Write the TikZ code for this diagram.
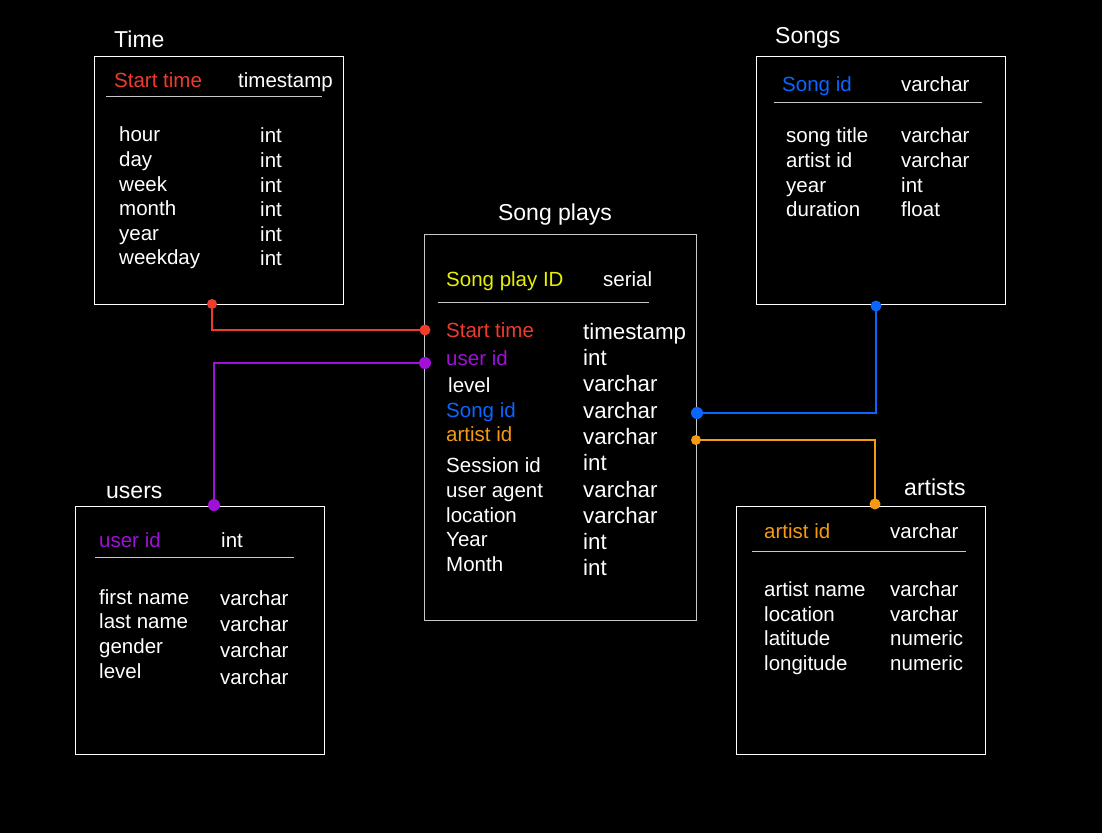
\documentclass[tikz,border=0pt]{standalone}
\usepackage{fontspec}
\setmainfont{Liberation Sans}
\definecolor{cred}{HTML}{EE3B2C}
\definecolor{cpur}{HTML}{A010D8}
\definecolor{cblu}{HTML}{0A66FF}
\definecolor{cora}{HTML}{F59A12}
\definecolor{cyel}{HTML}{E8F000}
\definecolor{cgry}{HTML}{C8C8C8}
\begin{document}
\begin{tikzpicture}[x=1pt,y=-1pt,
  tbl/.style={draw=white, line width=1.1pt, inner sep=0pt, anchor=north west},
  txt/.style={anchor=base west, inner sep=0pt, text=white, font=\fontsize{20.5}{24}\selectfont},
  big/.style={txt, font=\fontsize{22.3}{26}\selectfont},
  ttl/.style={anchor=base west, inner sep=0pt, text=white, font=\fontsize{23}{27}\selectfont},
  hline/.style={draw=cgry, line width=0.9pt},
  conn/.style={line width=1.3pt},
  dot/.style={circle, fill, inner sep=0pt, minimum size=10pt}]
\fill[black] (0,0) rectangle (1102,833);
\useasboundingbox (0,0) rectangle (1102,833);

% ---------- Time ----------
\node[tbl, minimum width=249pt, minimum height=248pt] (time) at (94,56) {};
\node[ttl] (timeT) at (114,47) {Time};
\node[txt, text=cred] (timeK) at (114,87) {Start time};
\node[txt] (timeKT) at (238,87) {timestamp};
\draw[hline] (106,96) -- (322,96);
\foreach \n/\t/\y in {a/hour/141, b/day/166, c/week/191, d/month/215, e/year/240, f/weekday/264}{
  \node[txt] (time\n) at (119,\y) {\t};
  \node[txt] (timeT\n) at (260,\y+1) {int};
}

% ---------- Songs ----------
\node[tbl, minimum width=249pt, minimum height=248pt] (songs) at (756,56) {};
\node[ttl] (songsT) at (775,43) {Songs};
\node[txt, text=cblu] (songsK) at (782,91) {Song id};
\node[txt] (songsKT) at (901,91) {varchar};
\draw[hline] (774,102) -- (982,102);
\foreach \n/\t/\ty/\y in {a/song title/varchar/142, b/artist id/varchar/167, c/year/int/192, d/duration/float/216}{
  \node[txt] (songs\n) at (786,\y) {\t};
  \node[txt] (songsT\n) at (901,\y) {\ty};
}

% ---------- Song plays ----------
\node[tbl, draw=cgry, line width=0.9pt, minimum width=272pt, minimum height=386pt] (plays) at (424,234) {};
\node[ttl, anchor=base] (playsT) at (555,220) {Song plays};
\node[txt, text=cyel] (playsK) at (446,286) {Song play ID};
\node[txt] (playsKT) at (603,286) {serial};
\draw[hline] (438,302) -- (649,302);
\node[txt, text=cred] (p1) at (446,337) {Start time};
\node[txt, text=cpur] (p2) at (446,365) {user id};
\node[txt] (p3) at (448,392) {level};
\node[txt, text=cblu] (p4) at (446,417) {Song id};
\node[txt, text=cora] (p5) at (446,441) {artist id};
\node[txt] (p6) at (446,472) {Session id};
\node[txt] (p7) at (446,497) {user agent};
\node[txt] (p8) at (446,522) {location};
\node[txt] (p9) at (446,546) {Year};
\node[txt] (p10) at (446,571) {Month};
\node[big] (pt1) at (583,339) {timestamp};
\node[big] (pt2) at (583,365) {int};
\node[big] (pt3) at (583,391) {varchar};
\node[big] (pt4) at (583,418) {varchar};
\node[big] (pt5) at (583,444) {varchar};
\node[big] (pt6) at (583,470) {int};
\node[big] (pt7) at (583,497) {varchar};
\node[big] (pt8) at (583,523) {varchar};
\node[big] (pt9) at (583,549) {int};
\node[big] (pt10) at (583,575) {int};

% ---------- users ----------
\node[tbl, minimum width=249pt, minimum height=248pt] (users) at (75,506) {};
\node[ttl] (usersT) at (106,498) {users};
\node[txt, text=cpur] (usersK) at (99,547) {user id};
\node[txt] (usersKT) at (221,547) {int};
\draw[hline] (95,557) -- (294,557);
\foreach \n/\t/\y/\ty in {a/first name/604/605, b/last name/628/631, c/gender/653/657, d/level/678/684}{
  \node[txt] (users\n) at (99,\y) {\t};
  \node[txt] (usersT\n) at (220,\ty) {varchar};
}

% ---------- artists ----------
\node[tbl, minimum width=249pt, minimum height=248pt] (artists) at (736,506) {};
\node[ttl] (artistsT) at (904,495) {artists};
\node[txt, text=cora] (artistsK) at (764,538) {artist id};
\node[txt] (artistsKT) at (890,538) {varchar};
\draw[hline] (752,551) -- (966,551);
\foreach \n/\t/\ty/\y in {a/artist name/varchar/596, b/location/varchar/621, c/latitude/numeric/645, d/longitude/numeric/670}{
  \node[txt] (artists\n) at (764,\y) {\t};
  \node[txt] (artistsT\n) at (890,\y) {\ty};
}

% ---------- connectors ----------
\coordinate (rA) at (212,304);
\coordinate (rB) at (425,330);
\coordinate (uA) at (425,363);
\coordinate (uB) at (214,505);
\coordinate (bA) at (697,413);
\coordinate (bB) at (876,306);
\coordinate (oA) at (696,440);
\coordinate (oB) at (875,504);

\draw[conn, cred] (rA) |- (rB);
\draw[conn, cpur] (uA) -| (uB);
\draw[conn, cblu] (bA) -| (bB);
\draw[conn, cora] (oA) -| (oB);

\node[dot, fill=cred] (dr1) at (rA) {};
\node[dot, fill=cred, minimum size=11pt] (dr2) at (rB) {};
\node[dot, fill=cpur, minimum size=12pt] (du1) at (uA) {};
\node[dot, fill=cpur, minimum size=12pt] (du2) at (uB) {};
\node[dot, fill=cblu, minimum size=12pt] (db1) at (bA) {};
\node[dot, fill=cblu, minimum size=11pt] (db2) at (bB) {};
\node[dot, fill=cora] (do1) at (oA) {};
\node[dot, fill=cora, minimum size=11pt] (do2) at (oB) {};
\end{tikzpicture}
\end{document}
